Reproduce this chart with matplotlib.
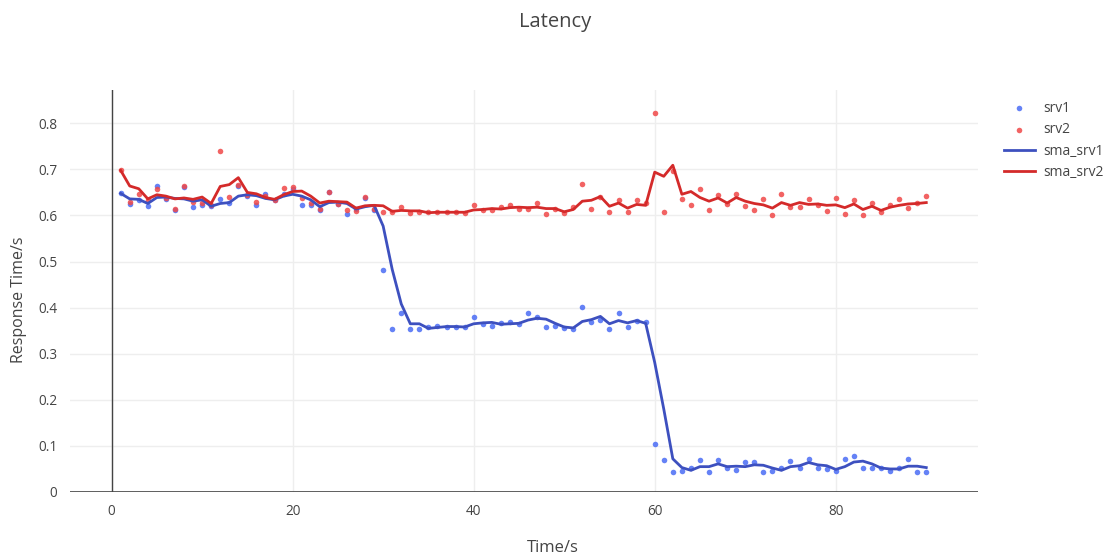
"""Latency plot: raw response times for two servers plus 3-point moving averages"""
import matplotlib.pyplot as plt

plt.rcParams['font.family'] = ['Open Sans', 'DejaVu Sans']

### Data ###
time_s = list(range(1, 91))

srv1 = [0.648, 0.624, 0.633, 0.621, 0.664, 0.635, 0.612, 0.662, 0.618, 0.622,
        0.621, 0.636, 0.626, 0.665, 0.643, 0.622, 0.646, 0.633, 0.646, 0.658,
        0.623, 0.622, 0.612, 0.651, 0.624, 0.604, 0.615, 0.638, 0.612, 0.482,
        0.354, 0.388, 0.354, 0.354, 0.357, 0.361, 0.358, 0.358, 0.357, 0.380,
        0.364, 0.361, 0.366, 0.368, 0.364, 0.388, 0.380, 0.357, 0.361, 0.355,
        0.353, 0.402, 0.368, 0.373, 0.354, 0.388, 0.358, 0.371, 0.368, 0.104,
        0.069, 0.044, 0.046, 0.051, 0.069, 0.044, 0.069, 0.053, 0.047, 0.065,
        0.066, 0.044, 0.046, 0.051, 0.067, 0.053, 0.071, 0.052, 0.049, 0.046,
        0.071, 0.078, 0.053, 0.053, 0.051, 0.046, 0.052, 0.071, 0.044, 0.044]

srv2 = [0.698, 0.630, 0.646, 0.633, 0.657, 0.637, 0.613, 0.663, 0.630, 0.626,
        0.622, 0.740, 0.640, 0.667, 0.644, 0.630, 0.642, 0.633, 0.660, 0.662,
        0.637, 0.628, 0.615, 0.650, 0.625, 0.612, 0.610, 0.641, 0.614, 0.607,
        0.607, 0.618, 0.605, 0.607, 0.607, 0.607, 0.607, 0.607, 0.606, 0.622,
        0.611, 0.611, 0.619, 0.622, 0.613, 0.615, 0.627, 0.604, 0.615, 0.606,
        0.619, 0.668, 0.613, 0.641, 0.607, 0.633, 0.607, 0.633, 0.626, 0.823,
        0.607, 0.696, 0.636, 0.623, 0.658, 0.612, 0.645, 0.625, 0.647, 0.620,
        0.612, 0.636, 0.601, 0.647, 0.618, 0.618, 0.636, 0.622, 0.609, 0.638,
        0.603, 0.634, 0.601, 0.626, 0.607, 0.622, 0.636, 0.616, 0.626, 0.643]

sma_srv1 = [0.648, 0.636, 0.635, 0.626, 0.639, 0.640, 0.637, 0.636, 0.631, 0.634,
            0.620, 0.626, 0.628, 0.642, 0.645, 0.643, 0.637, 0.634, 0.642, 0.646,
            0.642, 0.634, 0.619, 0.628, 0.629, 0.626, 0.614, 0.619, 0.622, 0.577,
            0.483, 0.408, 0.365, 0.365, 0.355, 0.357, 0.359, 0.359, 0.358, 0.365,
            0.367, 0.368, 0.364, 0.365, 0.366, 0.373, 0.377, 0.375, 0.366, 0.358,
            0.356, 0.370, 0.374, 0.381, 0.365, 0.372, 0.367, 0.372, 0.366, 0.281,
            0.180, 0.072, 0.053, 0.047, 0.055, 0.055, 0.061, 0.055, 0.056, 0.055,
            0.059, 0.058, 0.052, 0.047, 0.055, 0.057, 0.064, 0.059, 0.057, 0.049,
            0.055, 0.065, 0.067, 0.061, 0.052, 0.050, 0.050, 0.056, 0.056, 0.053]

sma_srv2 = [0.698, 0.664, 0.658, 0.636, 0.645, 0.642, 0.636, 0.638, 0.635, 0.640,
            0.626, 0.663, 0.667, 0.682, 0.650, 0.647, 0.639, 0.635, 0.645, 0.652,
            0.653, 0.642, 0.627, 0.631, 0.630, 0.629, 0.616, 0.621, 0.622, 0.621,
            0.609, 0.611, 0.610, 0.610, 0.606, 0.607, 0.607, 0.607, 0.607, 0.612,
            0.613, 0.615, 0.614, 0.617, 0.618, 0.617, 0.618, 0.615, 0.615, 0.608,
            0.613, 0.631, 0.633, 0.641, 0.620, 0.627, 0.616, 0.624, 0.622, 0.694,
            0.685, 0.709, 0.646, 0.652, 0.639, 0.631, 0.638, 0.627, 0.639, 0.631,
            0.626, 0.623, 0.616, 0.628, 0.622, 0.628, 0.624, 0.625, 0.622, 0.623,
            0.617, 0.625, 0.613, 0.620, 0.611, 0.618, 0.622, 0.625, 0.626, 0.628]

y_ticks = [0, 0.1, 0.2, 0.3, 0.4, 0.5, 0.6, 0.7, 0.8]
y_tick_labels = ["0", "0.1", "0.2", "0.3", "0.4", "0.5", "0.6", "0.7", "0.8"]
x_ticks = [0, 20, 40, 60, 80]

### Plot ###
text_color = "#444444"
fig = plt.figure(figsize=(11.14, 5.57), dpi=100)
ax = fig.add_axes([0.0628, 0.1167, 0.815, 0.7215])

ax.scatter(time_s, srv1, s=16, color="#4a6cf5", alpha=0.85, linewidths=0, label="srv1", zorder=3)
ax.scatter(time_s, srv2, s=16, color="#f04848", alpha=0.85, linewidths=0, label="srv2", zorder=3)
ax.plot(time_s, sma_srv1, color="#3d50bf", lw=2, label="sma_srv1", zorder=4)
ax.plot(time_s, sma_srv2, color="#d42a2a", lw=2, label="sma_srv2", zorder=4)

ax.set_xlim(-4.6, 95.7)
ax.set_ylim(0, 0.872)
ax.set_xticks(x_ticks)
ax.set_yticks(y_ticks)
ax.set_yticklabels(y_tick_labels)

# plotly-like look: light grid, dark zero lines, no frame
for s in ax.spines.values():
    s.set_visible(False)
ax.grid(True, color="#eeeeee", lw=1)
ax.set_axisbelow(True)
ax.axvline(0, color=text_color, lw=1, zorder=2)
ax.axhline(0, color=text_color, lw=1.2, zorder=2)
ax.tick_params(length=0, colors=text_color, labelsize=9.8, pad=9)

fig.text(0.498, 0.96, "Latency", ha="center", va="center", fontsize=14.5, color=text_color)
fig.text(0.496, 1 - 548 / 557, "Time/s", ha="center", va="center", fontsize=12, color=text_color)
fig.text(0.017, 1 - 300 / 557, "Response Time/s", ha="center", va="center", rotation=90,
         fontsize=11.5, color=text_color)

leg = fig.legend(loc="upper left", bbox_to_anchor=(0.89, 0.841), frameon=False,
                 fontsize=10, handlelength=2.2, handletextpad=0.6, labelspacing=0.45,
                 markerscale=1.0)
for t in leg.get_texts():
    t.set_color(text_color)

plt.savefig("out.png", dpi=100)
